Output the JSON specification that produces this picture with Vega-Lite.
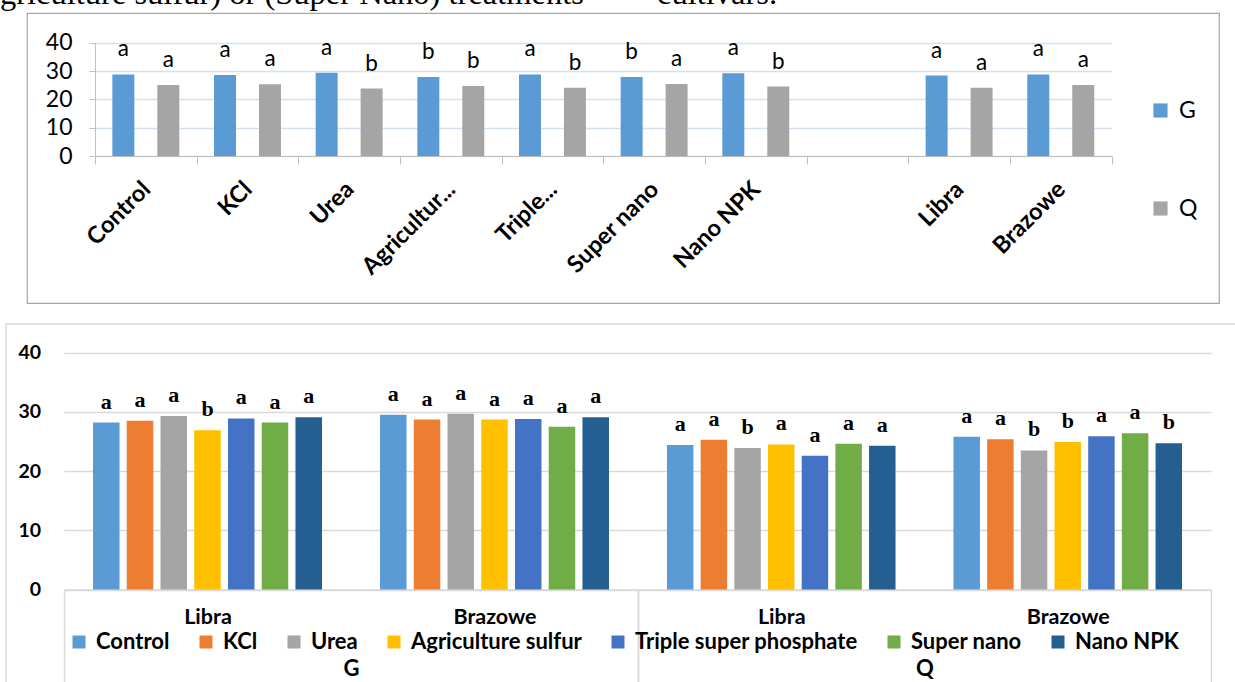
{
  "$schema": "https://vega.github.io/schema/vega-lite/v6.json",
  "autosize": {"type": "pad"},
  "padding": {"left": 0, "top": -23, "right": 0, "bottom": 0},
  "background": "white",
  "bounds": "flush",
  "center": true,
  "spacing": 21,
  "resolve": {"scale": {"color": "independent"}, "legend": {"color": "independent"}},
  "title": {
    "text": "griculture sulfur) or (Super Nano) treatments\u00a0\u00a0\u00a0\u00a0\u00a0\u00a0\u00a0\u00a0 cultivars.",
    "anchor": "start",
    "frame": "group",
    "orient": "top",
    "font": "Liberation Serif",
    "fontSize": 32.5,
    "fontWeight": "normal",
    "color": "black",
    "baseline": "bottom",
    "offset": -31,
    "dx": -6
  },
  "datasets": {
    "means": [
      {"group": "Control", "trait": "G", "value": 28.8, "letter": "a"},
      {"group": "Control", "trait": "Q", "value": 25.1, "letter": "a"},
      {"group": "KCl", "trait": "G", "value": 28.6, "letter": "a"},
      {"group": "KCl", "trait": "Q", "value": 25.3, "letter": "a"},
      {"group": "Urea", "trait": "G", "value": 29.4, "letter": "a"},
      {"group": "Urea", "trait": "Q", "value": 23.8, "letter": "b"},
      {"group": "Agriculture sulfur", "trait": "G", "value": 27.9, "letter": "b"},
      {"group": "Agriculture sulfur", "trait": "Q", "value": 24.7, "letter": "b"},
      {"group": "Triple super phosphate", "trait": "G", "value": 28.8, "letter": "a"},
      {"group": "Triple super phosphate", "trait": "Q", "value": 24.1, "letter": "b"},
      {"group": "Super nano", "trait": "G", "value": 27.9, "letter": "b"},
      {"group": "Super nano", "trait": "Q", "value": 25.4, "letter": "a"},
      {"group": "Nano NPK", "trait": "G", "value": 29.2, "letter": "a"},
      {"group": "Nano NPK", "trait": "Q", "value": 24.5, "letter": "b"},
      {"group": "Libra", "trait": "G", "value": 28.4, "letter": "a"},
      {"group": "Libra", "trait": "Q", "value": 24.1, "letter": "a"},
      {"group": "Brazowe", "trait": "G", "value": 28.8, "letter": "a"},
      {"group": "Brazowe", "trait": "Q", "value": 25.1, "letter": "a"}
    ],
    "cells": [
      {"trait": "G", "cultivar": "Libra", "treatment": "Control", "value": 28.2, "letter": "a"},
      {"trait": "G", "cultivar": "Libra", "treatment": "KCl", "value": 28.5, "letter": "a"},
      {"trait": "G", "cultivar": "Libra", "treatment": "Urea", "value": 29.3, "letter": "a"},
      {"trait": "G", "cultivar": "Libra", "treatment": "Agriculture sulfur", "value": 26.9, "letter": "b"},
      {"trait": "G", "cultivar": "Libra", "treatment": "Triple super phosphate", "value": 28.9, "letter": "a"},
      {"trait": "G", "cultivar": "Libra", "treatment": "Super nano", "value": 28.2, "letter": "a"},
      {"trait": "G", "cultivar": "Libra", "treatment": "Nano NPK", "value": 29.1, "letter": "a"},
      {"trait": "G", "cultivar": "Brazowe", "treatment": "Control", "value": 29.5, "letter": "a"},
      {"trait": "G", "cultivar": "Brazowe", "treatment": "KCl", "value": 28.7, "letter": "a"},
      {"trait": "G", "cultivar": "Brazowe", "treatment": "Urea", "value": 29.7, "letter": "a"},
      {"trait": "G", "cultivar": "Brazowe", "treatment": "Agriculture sulfur", "value": 28.7, "letter": "a"},
      {"trait": "G", "cultivar": "Brazowe", "treatment": "Triple super phosphate", "value": 28.8, "letter": "a"},
      {"trait": "G", "cultivar": "Brazowe", "treatment": "Super nano", "value": 27.5, "letter": "a"},
      {"trait": "G", "cultivar": "Brazowe", "treatment": "Nano NPK", "value": 29.1, "letter": "a"},
      {"trait": "Q", "cultivar": "Libra", "treatment": "Control", "value": 24.4, "letter": "a"},
      {"trait": "Q", "cultivar": "Libra", "treatment": "KCl", "value": 25.3, "letter": "a"},
      {"trait": "Q", "cultivar": "Libra", "treatment": "Urea", "value": 23.9, "letter": "b"},
      {"trait": "Q", "cultivar": "Libra", "treatment": "Agriculture sulfur", "value": 24.5, "letter": "a"},
      {"trait": "Q", "cultivar": "Libra", "treatment": "Triple super phosphate", "value": 22.6, "letter": "a"},
      {"trait": "Q", "cultivar": "Libra", "treatment": "Super nano", "value": 24.6, "letter": "a"},
      {"trait": "Q", "cultivar": "Libra", "treatment": "Nano NPK", "value": 24.3, "letter": "a"},
      {"trait": "Q", "cultivar": "Brazowe", "treatment": "Control", "value": 25.8, "letter": "a"},
      {"trait": "Q", "cultivar": "Brazowe", "treatment": "KCl", "value": 25.4, "letter": "a"},
      {"trait": "Q", "cultivar": "Brazowe", "treatment": "Urea", "value": 23.5, "letter": "b"},
      {"trait": "Q", "cultivar": "Brazowe", "treatment": "Agriculture sulfur", "value": 24.9, "letter": "b"},
      {"trait": "Q", "cultivar": "Brazowe", "treatment": "Triple super phosphate", "value": 25.9, "letter": "a"},
      {"trait": "Q", "cultivar": "Brazowe", "treatment": "Super nano", "value": 26.4, "letter": "a"},
      {"trait": "Q", "cultivar": "Brazowe", "treatment": "Nano NPK", "value": 24.7, "letter": "b"}
    ]
  },
  "vconcat": [
    {
      "width": 1192,
      "height": 290,
      "view": {"stroke": "#a6a6a6", "strokeWidth": 1.2},
      "data": {"name": "means"},
      "encoding": {
        "x": {
          "field": "group",
          "type": "nominal",
          "scale": {
            "domain": ["Control", "KCl", "Urea", "Agriculture sulfur", "Triple super phosphate", "Super nano", "Nano NPK", " ", "Libra", "Brazowe"],
            "range": [68, 1084.6],
            "paddingInner": 0,
            "paddingOuter": 0
          },
          "axis": {
            "orient": "bottom",
            "offset": -147,
            "title": null,
            "grid": false,
            "domainColor": "#bfbfbf",
            "tickColor": "#bfbfbf",
            "tickSize": 8,
            "tickBand": "extent",
            "labelAngle": -45,
            "labelFont": "Lato",
            "labelFontWeight": "bold",
            "labelFontSize": 23.5,
            "labelColor": "black",
            "labelPadding": 13,
            "labelOffset": -8,
            "labelOverlap": false,
            "labelExpr": "datum.label === 'Agriculture sulfur' ? 'Agricultur...' : datum.label === 'Triple super phosphate' ? 'Triple...' : datum.label"
          }
        },
        "xOffset": {
          "field": "trait",
          "type": "nominal",
          "scale": {"domain": ["G", "Q"], "paddingInner": 0.511, "paddingOuter": 0.386}
        },
        "y": {
          "field": "value",
          "type": "quantitative",
          "scale": {"domain": [0, 40], "range": [143, 29.7], "nice": false, "zero": true},
          "axis": {
            "orient": "left",
            "offset": -68,
            "title": null,
            "values": [0, 10, 20, 30, 40],
            "domain": true,
            "domainColor": "#bfbfbf",
            "ticks": true,
            "tickSize": 6,
            "tickColor": "#bfbfbf",
            "labelPadding": 17,
            "labelFont": "Lato",
            "labelFontSize": 23,
            "labelColor": "black",
            "grid": true,
            "gridColor": "#d3e1f0",
            "gridWidth": 1.3
          }
        }
      },
      "layer": [
        {
          "mark": {"type": "bar"},
          "encoding": {
            "color": {
              "field": "trait",
              "type": "nominal",
              "scale": {"domain": ["G", "Q"], "range": ["#5b9bd5", "#a5a5a5"]},
              "legend": {
                "orient": "none",
                "legendX": 1122,
                "legendY": 86,
                "direction": "vertical",
                "title": null,
                "symbolType": "square",
                "symbolSize": 200,
                "symbolStrokeWidth": 0,
                "labelFont": "Lato",
                "labelFontSize": 23,
                "labelColor": "black",
                "labelOffset": 7,
                "rowPadding": 74
              }
            }
          }
        },
        {
          "mark": {"type": "text", "dy": -25, "baseline": "middle", "font": "Lato", "fontSize": 22.5, "color": "black"},
          "encoding": {"text": {"field": "letter"}}
        }
      ]
    },
    {
      "width": 1234,
      "height": 370,
      "view": {"stroke": "#d9d9d9", "strokeWidth": 1.5},
      "data": {"name": "cells"},
      "resolve": {
        "scale": {"x": "independent", "y": "independent", "xOffset": "independent"},
        "axis": {"x": "independent", "y": "independent"}
      },
      "layer": [
        {
          "transform": [{"filter": "datum.trait === 'G'"}],
          "encoding": {
            "x": {
              "field": "cultivar",
              "type": "nominal",
              "scale": {"domain": ["Libra", "Brazowe"], "range": [58, 632], "paddingInner": 0, "paddingOuter": 0},
              "axis": {
                "orient": "bottom",
                "offset": -104.5,
                "title": "G",
                "titleY": 79,
                "titleBaseline": "middle",
                "titleFont": "Lato",
                "titleFontSize": 22,
                "titleFontWeight": "bold",
                "titleColor": "black",
                "domainColor": "#d9d9d9",
                "domainWidth": 1.5,
                "ticks": true,
                "tickBand": "extent",
                "tickSize": 110,
                "tickColor": "#d9d9d9",
                "tickWidth": 1.5,
                "tickOpacity": {"condition": {"test": "datum.value === 'Libra'", "value": 0}, "value": 1},
                "labelAngle": 0,
                "labelAlign": "center",
                "labelBaseline": "middle",
                "labelPadding": -82,
                "labelFont": "Lato",
                "labelFontSize": 21.5,
                "labelFontWeight": "bold",
                "labelColor": "black",
                "grid": false
              }
            },
            "xOffset": {
              "field": "treatment",
              "type": "nominal",
              "scale": {
                "domain": ["Control", "KCl", "Urea", "Agriculture sulfur", "Triple super phosphate", "Super nano", "Nano NPK"],
                "paddingInner": 0.214,
                "paddingOuter": 0.86
              }
            },
            "y": {
              "field": "value",
              "type": "quantitative",
              "scale": {"domain": [0, 40], "range": [265.5, 28.7], "nice": false},
              "axis": {
                "orient": "left",
                "offset": -58,
                "title": null,
                "values": [0, 10, 20, 30, 40],
                "domain": false,
                "ticks": false,
                "labelPadding": 23.5,
                "labelFont": "Lato",
                "labelFontSize": 19.5,
                "labelFontWeight": "bold",
                "labelColor": "black",
                "grid": true,
                "gridColor": "#d9d9d9",
                "gridWidth": 1.5
              }
            }
          },
          "layer": [
            {
              "mark": {"type": "bar"},
              "encoding": {
                "color": {
                  "field": "treatment",
                  "type": "nominal",
                  "scale": {
                    "domain": ["Control", "KCl", "Urea", "Agriculture sulfur", "Triple super phosphate", "Super nano", "Nano NPK"],
                    "range": ["#5b9bd5", "#ed7d31", "#a5a5a5", "#ffc000", "#4472c4", "#70ad47", "#255e91"]
                  },
                  "legend": {
                    "orient": "none",
                    "legendX": 62,
                    "legendY": 307,
                    "direction": "horizontal",
                    "title": null,
                    "symbolType": "square",
                    "symbolSize": 169,
                    "symbolStrokeWidth": 0,
                    "labelFont": "Lato",
                    "labelFontSize": 22,
                    "labelFontWeight": "bold",
                    "labelColor": "black",
                    "labelOffset": 6,
                    "labelLimit": 400,
                    "columnPadding": 25
                  }
                }
              }
            },
            {
              "mark": {"type": "text", "dy": -21, "baseline": "middle", "font": "Liberation Serif", "fontWeight": "bold", "fontSize": 22, "color": "black"},
              "encoding": {"text": {"field": "letter"}}
            }
          ]
        },
        {
          "transform": [{"filter": "datum.trait === 'Q'"}],
          "encoding": {
            "x": {
              "field": "cultivar",
              "type": "nominal",
              "scale": {"domain": ["Libra", "Brazowe"], "range": [632, 1205], "paddingInner": 0, "paddingOuter": 0},
              "axis": {
                "orient": "bottom",
                "offset": -104.5,
                "title": "Q",
                "titleY": 79,
                "titleBaseline": "middle",
                "titleFont": "Lato",
                "titleFontSize": 22,
                "titleFontWeight": "bold",
                "titleColor": "black",
                "domainColor": "#d9d9d9",
                "domainWidth": 1.5,
                "ticks": true,
                "tickBand": "extent",
                "tickSize": 110,
                "tickColor": "#d9d9d9",
                "tickWidth": 1.5,
                "tickOpacity": {"condition": {"test": "datum.value === 'Libra'", "value": 0}, "value": 1},
                "labelAngle": 0,
                "labelAlign": "center",
                "labelBaseline": "middle",
                "labelPadding": -82,
                "labelFont": "Lato",
                "labelFontSize": 21.5,
                "labelFontWeight": "bold",
                "labelColor": "black",
                "grid": false
              }
            },
            "xOffset": {
              "field": "treatment",
              "type": "nominal",
              "scale": {
                "domain": ["Control", "KCl", "Urea", "Agriculture sulfur", "Triple super phosphate", "Super nano", "Nano NPK"],
                "paddingInner": 0.214,
                "paddingOuter": 0.86
              }
            },
            "y": {
              "field": "value",
              "type": "quantitative",
              "scale": {"domain": [0, 40], "range": [265.5, 28.7], "nice": false},
              "axis": {
                "orient": "left",
                "offset": -632,
                "title": null,
                "values": [0, 10, 20, 30, 40],
                "domain": false,
                "ticks": false,
                "labels": false,
                "grid": true,
                "gridColor": "#d9d9d9",
                "gridWidth": 1.5
              }
            }
          },
          "layer": [
            {
              "mark": {"type": "bar"},
              "encoding": {
                "color": {
                  "field": "treatment",
                  "type": "nominal",
                  "scale": {
                    "domain": ["Control", "KCl", "Urea", "Agriculture sulfur", "Triple super phosphate", "Super nano", "Nano NPK"],
                    "range": ["#5b9bd5", "#ed7d31", "#a5a5a5", "#ffc000", "#4472c4", "#70ad47", "#255e91"]
                  }
                }
              }
            },
            {
              "mark": {"type": "text", "dy": -21, "baseline": "middle", "font": "Liberation Serif", "fontWeight": "bold", "fontSize": 22, "color": "black"},
              "encoding": {"text": {"field": "letter"}}
            }
          ]
        }
      ]
    }
  ],
  "config": {
    "view": {"stroke": null},
    "font": "Lato"
  }
}
